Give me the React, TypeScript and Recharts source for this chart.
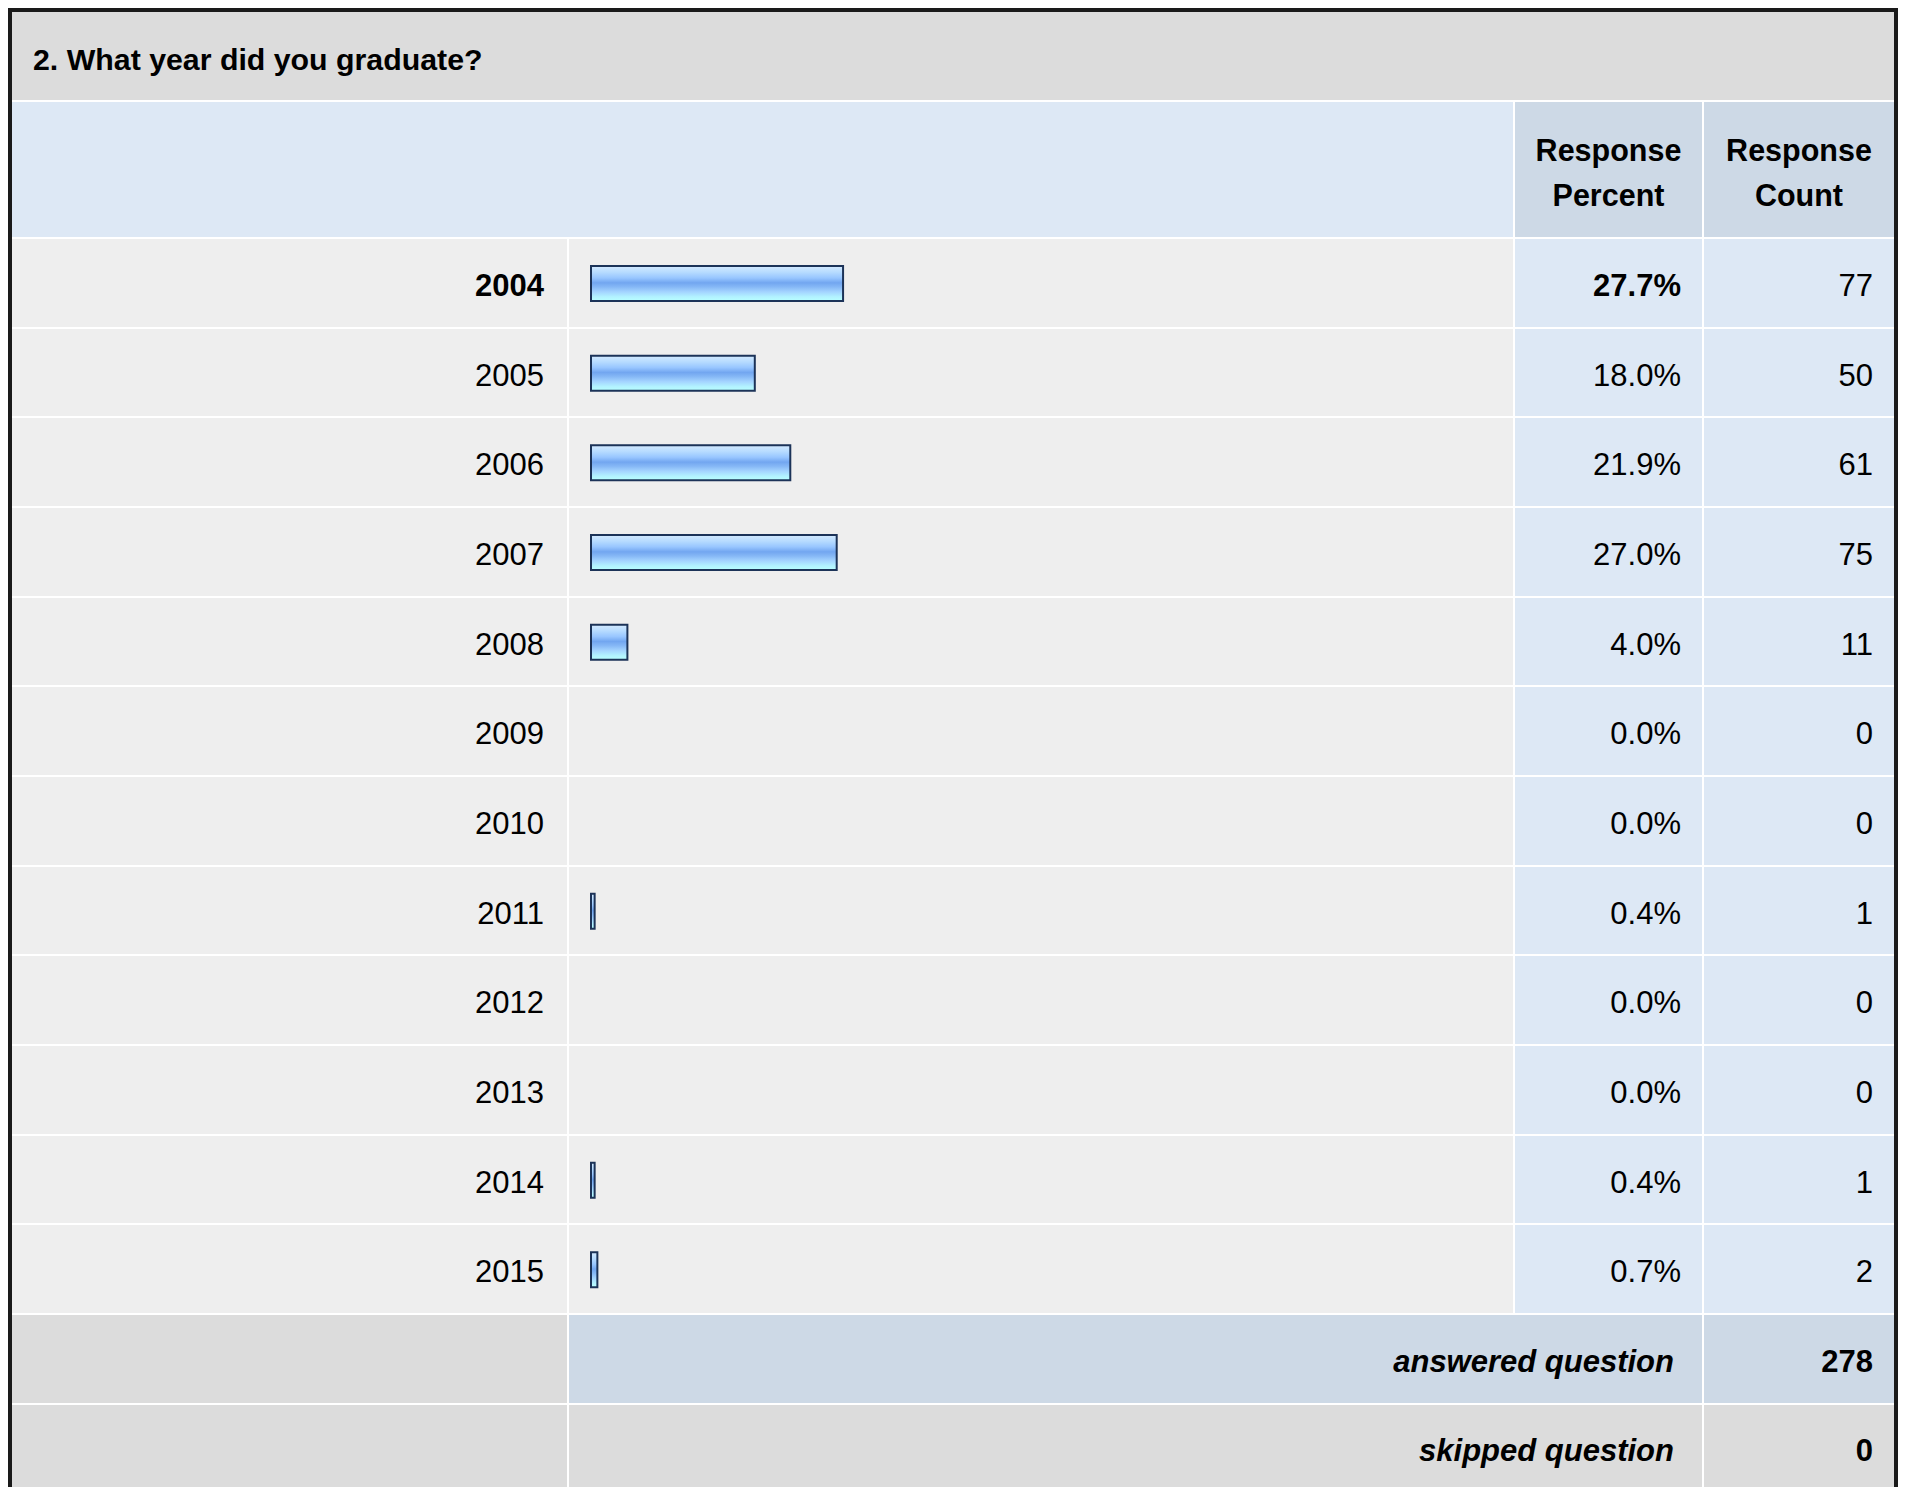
import React from 'react';
import { BarChart, Bar, XAxis, YAxis } from 'recharts';

const title = '2. What year did you graduate?';
const headerPercent = ['Response', 'Percent'];
const headerCount = ['Response', 'Count'];
const years = ['2004', '2005', '2006', '2007', '2008', '2009', '2010', '2011', '2012', '2013', '2014', '2015'];
const percents = [27.7, 18.0, 21.9, 27.0, 4.0, 0.0, 0.0, 0.4, 0.0, 0.0, 0.4, 0.7];
const counts = [77, 50, 61, 75, 11, 0, 0, 1, 0, 0, 1, 2];
const highlighted = [true, false, false, false, false, false, false, false, false, false, false, false];
const footerLabels = ['answered question', 'skipped question'];
const footerValues = [278, 0];

const data = years.map((y, i) => ({ year: y, pct: percents[i], count: counts[i], bold: highlighted[i] }));

const FONT = '"Liberation Sans", Arial, Helvetica, sans-serif';
const ROWS_TOP = 239;
const ROWS_BOTTOM = 1315;
const PITCH = (ROWS_BOTTOM - ROWS_TOP) / years.length;
const CONTENT_LEFT = 12;
const CONTENT_RIGHT = 1894;
const COL_BAR = 569;
const COL_PCT = 1515;
const COL_CNT = 1704;

const GRAY = '#dcdcdc';
const ROWBG = '#eeeeee';
const LIGHTBLUE = '#dde8f5';
const MIDBLUE = '#cdd9e6';
const FS = 31;
const TEXT_DY = 1.5;

function Cell({ x1, x2, y1, y2, bg }: { x1: number; x2: number; y1: number; y2: number; bg: string }) {
  return <div style={{ position: 'absolute', left: x1, top: y1, width: x2 - x1, height: y2 - y1, background: bg }} />;
}

function RowTick(props: any) {
  const { y, payload, index } = props;
  const d = data[index] || data.find((r) => r.year === payload.value);
  const ty = y + TEXT_DY;
  return (
    <g>
      <text x={544 - CONTENT_LEFT} y={ty} textAnchor="end" dominantBaseline="central" fontFamily={FONT} fontSize={FS} fontWeight={d.bold ? 700 : 400} fill="#000">
        {payload.value}
      </text>
      <text x={1681 - CONTENT_LEFT} y={ty} textAnchor="end" dominantBaseline="central" fontFamily={FONT} fontSize={FS} fontWeight={d.bold ? 700 : 400} fill="#000">
        {d.pct.toFixed(1) + '%'}
      </text>
      <text x={1873 - CONTENT_LEFT} y={ty} textAnchor="end" dominantBaseline="central" fontFamily={FONT} fontSize={FS} fill="#000">
        {d.count}
      </text>
    </g>
  );
}

export default function App() {
  const cells: React.ReactNode[] = [];
  years.forEach((_, i) => {
    const y1 = Math.round(ROWS_TOP + i * PITCH);
    const y2 = Math.round(ROWS_TOP + (i + 1) * PITCH) - 2;
    cells.push(<Cell key={'a' + i} x1={CONTENT_LEFT} x2={COL_BAR - 2} y1={y1} y2={y2} bg={ROWBG} />);
    cells.push(<Cell key={'b' + i} x1={COL_BAR} x2={COL_PCT - 2} y1={y1} y2={y2} bg={ROWBG} />);
    cells.push(<Cell key={'c' + i} x1={COL_PCT} x2={COL_CNT - 2} y1={y1} y2={y2} bg={LIGHTBLUE} />);
    cells.push(<Cell key={'d' + i} x1={COL_CNT} x2={CONTENT_RIGHT} y1={y1} y2={y2} bg={LIGHTBLUE} />);
  });

  const chartW = CONTENT_RIGHT - CONTENT_LEFT;
  const axisW = 591 - CONTENT_LEFT;
  const plotW = 910;

  return (
    <div style={{ position: 'absolute', left: 0, top: 0, width: 1909, height: 1487, overflow: 'hidden', background: '#fff', fontFamily: FONT }}>
      <div style={{ position: 'absolute', left: 8, top: 8, width: 1890, height: 1600, boxSizing: 'border-box', border: '4px solid #1a1a1a', background: '#fff' }} />
      {/* title row */}
      <Cell x1={CONTENT_LEFT} x2={CONTENT_RIGHT} y1={12} y2={100} bg={GRAY} />
      <div style={{ position: 'absolute', left: 33, top: 40, height: 40, lineHeight: '40px', fontSize: 30.3, fontWeight: 700, color: '#000', whiteSpace: 'nowrap' }}>{title}</div>
      {/* header row */}
      <Cell x1={CONTENT_LEFT} x2={COL_PCT - 2} y1={102} y2={237} bg={LIGHTBLUE} />
      <Cell x1={COL_PCT} x2={COL_CNT - 2} y1={102} y2={237} bg={MIDBLUE} />
      <Cell x1={COL_CNT} x2={CONTENT_RIGHT} y1={102} y2={237} bg={MIDBLUE} />
      <div style={{ position: 'absolute', left: COL_PCT, width: COL_CNT - 2 - COL_PCT, top: 128, height: 90, lineHeight: '45px', fontSize: 30.5, fontWeight: 700, textAlign: 'center', color: '#000' }}>
        {headerPercent[0]}<br />{headerPercent[1]}
      </div>
      <div style={{ position: 'absolute', left: COL_CNT, width: CONTENT_RIGHT - COL_CNT, top: 128, height: 90, lineHeight: '45px', fontSize: 30.5, fontWeight: 700, textAlign: 'center', color: '#000' }}>
        {headerCount[0]}<br />{headerCount[1]}
      </div>
      {cells}
      {/* footer rows */}
      <Cell x1={CONTENT_LEFT} x2={COL_BAR - 2} y1={1315} y2={1403} bg={GRAY} />
      <Cell x1={COL_BAR} x2={COL_CNT - 2} y1={1315} y2={1403} bg={MIDBLUE} />
      <Cell x1={COL_CNT} x2={CONTENT_RIGHT} y1={1315} y2={1403} bg={MIDBLUE} />
      <Cell x1={CONTENT_LEFT} x2={COL_BAR - 2} y1={1405} y2={1600} bg={GRAY} />
      <Cell x1={COL_BAR} x2={COL_CNT - 2} y1={1405} y2={1600} bg={GRAY} />
      <Cell x1={COL_CNT} x2={CONTENT_RIGHT} y1={1405} y2={1600} bg={GRAY} />
      {footerLabels.map((lbl, i) => {
        const cy = i === 0 ? 1362 : 1451;
        return (
          <React.Fragment key={lbl}>
            <div style={{ position: 'absolute', right: 1909 - 1674, top: cy - 20, height: 40, lineHeight: '40px', fontSize: FS, fontWeight: 700, fontStyle: 'italic', color: '#000', whiteSpace: 'nowrap' }}>{lbl}</div>
            <div style={{ position: 'absolute', right: 1909 - 1873, top: cy - 20, height: 40, lineHeight: '40px', fontSize: FS, fontWeight: 700, color: '#000', whiteSpace: 'nowrap' }}>{footerValues[i]}</div>
          </React.Fragment>
        );
      })}
      {/* bars */}
      <div style={{ position: 'absolute', left: CONTENT_LEFT, top: ROWS_TOP }}>
        <BarChart
          width={chartW}
          height={ROWS_BOTTOM - ROWS_TOP}
          data={data}
          layout="vertical"
          margin={{ top: 0, right: chartW - axisW - plotW, bottom: 0, left: 0 }}
          barCategoryGap={0}
        >
          <defs>
            <linearGradient id="barGrad" x1="0" y1="0" x2="0" y2="1">
              <stop offset="0%" stopColor="#d4eaff" />
              <stop offset="18%" stopColor="#b6dbff" />
              <stop offset="34%" stopColor="#98c6ff" />
              <stop offset="48%" stopColor="#72a6f0" />
              <stop offset="60%" stopColor="#86b8f6" />
              <stop offset="74%" stopColor="#a4d4ff" />
              <stop offset="88%" stopColor="#b2f2ff" />
              <stop offset="100%" stopColor="#b8ffff" />
            </linearGradient>
          </defs>
          <XAxis type="number" domain={[0, 100]} hide />
          <YAxis
            type="category"
            dataKey="year"
            width={axisW}
            axisLine={false}
            tickLine={false}
            interval={0}
            tick={(p: any) => <RowTick {...p} />}
          />
          <Bar dataKey="pct" fill="url(#barGrad)" stroke="#1c3358" strokeWidth={2} barSize={35} isAnimationActive={false} />
        </BarChart>
      </div>
    </div>
  );
}
